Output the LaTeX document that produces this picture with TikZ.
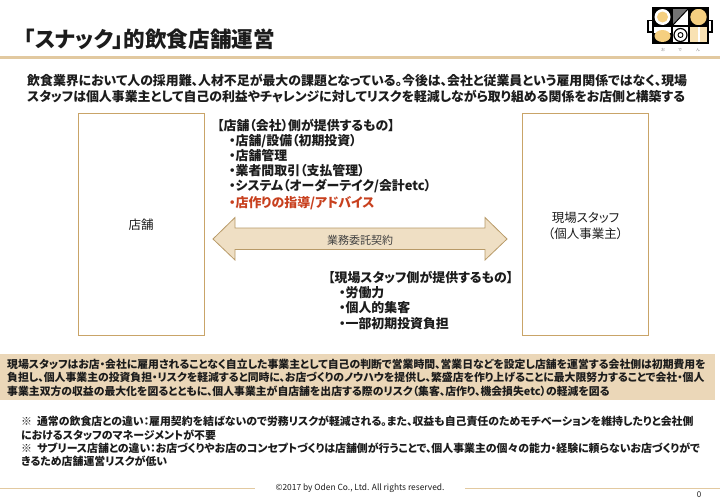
\documentclass[tikz,border=0pt]{standalone}
\usepackage{fontspec}
\setmainfont{Noto Sans CJK JP}[RawFeature=+palt]
\usepackage{xcolor}
\definecolor{tan}{HTML}{E2C9A0}
\definecolor{band}{HTML}{EBD7B8}
\definecolor{boxline}{HTML}{C9A468}
\definecolor{arrowfill}{HTML}{EFDFC4}
\definecolor{arrowline}{HTML}{B89A68}
\definecolor{ink}{HTML}{1C1C1C}
\definecolor{redtxt}{HTML}{C8401E}
\definecolor{logoy}{HTML}{F5CF80}
\tikzset{
  txt/.style={anchor=west,inner sep=0pt,text=ink,font=\fontsize{#1}{#1}\selectfont},
  btxt/.style={anchor=west,inner sep=0pt,text=ink,font=\fontsize{#1}{#1}\selectfont\bfseries},
  panel/.style={draw=boxline,line width=0.8pt,fill=white,minimum width=126pt,minimum height=222pt,inner sep=0pt},
  logoline/.style={draw=black,line width=1.3pt},
  logofill/.style={draw=black,line width=0.9pt,fill=logoy}
}
\begin{document}
\begin{tikzpicture}[x=1pt,y=-1pt]
\useasboundingbox (0,0) rectangle (720,498);
\fill[white] (0,0) rectangle (720,498);
% title
\node[btxt=21.6] (title) at (24,39.5) {「スナック」的飲食店舗運営};
\fill[tan] (0,56) rectangle (720,59);
% logo
\draw[logoline,fill=white] (648,20.5) rectangle (653,32);
\draw[logoline,fill=white] (708,20.5) rectangle (712,32);
\fill[black] (653,8) rectangle (672,26);
\fill[black] (689,8) rectangle (708,26);
\fill[black] (653,26) rectangle (672,43);
\fill[white] (672,8) rectangle (689,43);
\fill[white] (689,26) rectangle (708,43);
\fill[black!55] (672,8) -- (689,8) -- (672,26) -- cycle;
\fill[white] (662.5,17) circle (8);
\fill[logoy] (662.5,17) circle (5.5);
\fill[logoy] (698.5,17) circle (8.2);
\fill[white] (654,27) rectangle (671,33);
\fill[logoy] (662.5,36) ellipse (8 and 6);
\draw[black,line width=1.2pt] (680.5,35) circle (6.5);
\draw[black,line width=0.9pt] (680.5,35) circle (2.5);
\fill[logoy!60] (690,27) rectangle (697.5,43);
\fill[logoy!60] (699.5,27) rectangle (707,43);
\draw[logoline] (653,8) rectangle (708,43);
\draw[logoline] (672,8) -- (672,43) (689,8) -- (689,43) (653,26) -- (708,26);
\draw[black,line width=1pt] (672,26) -- (689,8);
\node[txt=4,text=black!50] (logoa) at (661,50) {お};
\node[txt=4,text=black!50] (logob) at (678,50) {で};
\node[txt=4,text=black!50] (logoc) at (696,50) {ん};
% intro
\node[btxt=12.9] (introa) at (27,81) {飲食業界において人の採用難、人材不足が最大の課題となっている。今後は、会社と従業員という雇用関係ではなく、現場};
\node[btxt=12.9] (introb) at (27,97) {スタッフは個人事業主として自己の利益やチャレンジに対してリスクを軽減しながら取り組める関係をお店側と構築する};
% panels
\node[panel] (shop) at (141,224) {};
\node[panel] (staff) at (585.5,224) {};
\node[txt=12.5,anchor=center] (shoplabel) at (141,225) {店舗};
\node[txt=12.5,anchor=center,align=center] (stafflabel) at (585.5,226) {現場スタッフ\\[3pt]（個人事業主）};
% lists
\node[btxt=12.9] (la) at (217,126) {【店舗（会社）側が提供するもの】};
\node[btxt=12.9] (lb) at (229,141) {・店舗/設備（初期投資）};
\node[btxt=12.9] (lc) at (229,156) {・店舗管理};
\node[btxt=12.9] (ld) at (229,171) {・業者間取引（支払管理）};
\node[btxt=12.9] (le) at (229,186) {・システム（オーダーテイク/会計etc）};
\node[btxt=12.9,text=redtxt] (lf) at (229,203) {・店作りの指導/アドバイス};
% arrow
\draw[draw=arrowline,fill=arrowfill,line width=0.8pt]
  (213,239) -- (235,217.5) -- (235,228) -- (485,228) -- (485,217.5) -- (507,239)
  -- (485,260) -- (485,249.5) -- (235,249.5) -- (235,260) -- cycle;
\node[txt=11,anchor=center,text=black!75] (contract) at (360,240) {業務委託契約};
% staff list
\node[btxt=12.9] (ra) at (328,278) {【現場スタッフ側が提供するもの】};
\node[btxt=12.9] (rb) at (339,293) {・労働力};
\node[btxt=12.9] (rc) at (339,308) {・個人的集客};
\node[btxt=12.9] (rd) at (339,324) {・一部初期投資負担};
% band
\fill[band] (0,354) rectangle (715,400);
\node[btxt=10.85] (ba) at (7,364.5) {現場スタッフはお店・会社に雇用されることなく自立した事業主として自己の判断で営業時間、営業日などを設定し店舗を運営する会社側は初期費用を};
\node[btxt=10.85] (bb) at (7,377.5) {負担し、個人事業主の投資負担・リスクを軽減すると同時に、お店づくりのノウハウを提供し、繁盛店を作り上げることに最大限努力することで会社・個人};
\node[btxt=10.85] (bc) at (7,391) {事業主双方の収益の最大化を図るとともに、個人事業主が自店舗を出店する際のリスク（集客、店作り、機会損失etc）の軽減を図る};
% notes
\node[btxt=10.9] (na) at (21,421.5) {※\ \ 通常の飲食店との違い：雇用契約を結ばないので労務リスクが軽減される。また、収益も自己責任のためモチベーションを維持したりと会社側};
\node[btxt=10.9] (nb) at (21,435.5) {におけるスタッフのマネージメントが不要};
\node[btxt=10.9] (nc) at (21,448) {※\ \ サブリース店舗との違い：お店づくりやお店のコンセプトづくりは店舗側が行うことで、個人事業主の個々の能力・経験に頼らないお店づくりがで};
\node[btxt=10.9] (nd) at (21,461.5) {きるため店舗運営リスクが低い};
% footer
\draw[tan,line width=0.9pt] (0,488) -- (255,488) (465,488) -- (720,488);
\node[txt=8.4,anchor=center] (foot) at (360,488) {©2017 by Oden Co., Ltd. All rights reserved.};
\node[txt=8,anchor=center] (page) at (699,495) {0};
\end{tikzpicture}
\end{document}
